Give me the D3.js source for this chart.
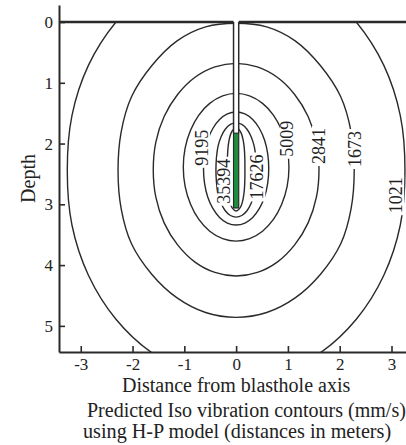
<!DOCTYPE html>
<html><head><meta charset="utf-8">
<script src="https://cdn.jsdelivr.net/npm/d3@7"></script>
<style>
body{margin:0;background:#fff;}
svg{display:block;}
text{font-family:"Liberation Serif","Times New Roman",serif;fill:#222;}
</style>
</head><body>
<svg id="c" width="406" height="445"></svg>
<script>
// ---- data (distances in meters, right half of each iso-contour: [x, depth]) ----
const levels = [35394, 17626, 9195, 5009, 2841, 1673, 1021];
const profile35394 = [[0,1.74],[0.05,1.763],[0.10,1.832],[0.135,1.941],[0.158,2.083],[0.168,2.248],[0.17,2.425],[0.168,2.602],[0.158,2.768],[0.135,2.909],[0.10,3.018],[0.05,3.087],[0,3.11]];
const profile17626 = [[0,1.66],[0.11,1.686],[0.21,1.764],[0.29,1.887],[0.35,2.047],[0.38,2.235],[0.39,2.435],[0.38,2.635],[0.35,2.823],[0.29,2.983],[0.21,3.106],[0.11,3.184],[0,3.21]];
const profile9195  = [[0,1.48],[0.17,1.512],[0.32,1.605],[0.45,1.752],[0.55,1.945],[0.61,2.169],[0.63,2.41],[0.61,2.651],[0.55,2.875],[0.45,3.068],[0.32,3.215],[0.17,3.308],[0,3.34]];
const profile5009  = [[0,1.175],[0.26,1.216],[0.51,1.338],[0.72,1.531],[0.88,1.782],[0.985,2.075],[1.02,2.39],[0.985,2.705],[0.88,2.998],[0.72,3.249],[0.51,3.442],[0.26,3.564],[0,3.605]];
const profile2841  = [[0,0.68],[0.41,0.739],[0.80,0.914],[1.13,1.193],[1.39,1.555],[1.55,1.977],[1.60,2.43],[1.55,2.883],[1.39,3.305],[1.13,3.667],[0.80,3.946],[0.41,4.121],[0,4.18]];
const profile1673  = [[0,0.02],[0.59,0.08],[1.14,0.31],[1.63,0.72],[2.02,1.23],[2.22,1.81],[2.28,2.44],[2.22,3.07],[2.02,3.65],[1.63,4.15],[1.14,4.54],[0.59,4.78],[0,4.86]];
const profile1021  = [[0,-1.0],[0.84,-0.9],[1.63,-0.56],[2.32,0.0],[2.85,0.71],[3.17,1.54],[3.26,2.44],[3.17,3.34],[2.85,4.17],[2.32,4.89],[1.63,5.44],[0.84,5.78],[0,5.90]];
const profiles = [profile35394, profile17626, profile9195, profile5009, profile2841, profile1673, profile1021];
const labelX     = [-0.23, 0.41, -0.66, 0.98, 1.60, 2.30, 3.09];
const labelDepth = [2.62, 2.55, 2.07, 1.92, 2.04, 2.09, 2.85];
const xTicks = [-3,-2,-1,0,1,2,3];
const yTicks = [0,1,2,3,4,5];
const holeHalfWidth = 0.05;
const stemmingBottom = 1.83;
const chargeBottom = 3.06;
const xTitle = "Distance from blasthole axis";
const yTitle = "Depth";
const caption1 = "Predicted Iso vibration contours (mm/s)";
const caption2 = "using H-P model (distances in meters)";

// ---- layout ----
const svg = d3.select("#c");
const x = d3.scaleLinear().domain([-3.42, 3.28]).range([59, 406]);
const y = d3.scaleLinear().domain([-0.28, 5.43]).range([5, 352]);
const ink = "#2a2a2a";
const serif = '"Liberation Serif","Times New Roman",serif';

svg.append("defs").append("clipPath").attr("id","plotclip")
  .append("rect").attr("x", x(-3.42)).attr("y", y(0)).attr("width", x(3.28)-x(-3.42)).attr("height", y(5.43)-y(0));

// contours
const line = d3.line().x(d=>x(d[0])).y(d=>y(d[1])).curve(d3.curveCatmullRomClosed.alpha(0.5));
const gC = svg.append("g").attr("clip-path","url(#plotclip)");
profiles.forEach(p => {
  const left = p.slice(1, -1).reverse().map(d => [-d[0], d[1]]);
  const pts = p.concat(left);
  gC.append("path").attr("d", line(pts)).attr("fill","none").attr("stroke", ink).attr("stroke-width", 1.4);
});

// blasthole: stemming (white) and charge (green)
const hw = x(holeHalfWidth) - x(0);
svg.append("rect").attr("x", x(-holeHalfWidth)).attr("y", y(0)).attr("width", 2*hw).attr("height", y(stemmingBottom)-y(0))
  .attr("fill","#fff");
svg.append("line").attr("x1", x(-holeHalfWidth)).attr("x2", x(-holeHalfWidth)).attr("y1", y(0)).attr("y2", y(stemmingBottom)).attr("stroke", ink).attr("stroke-width",1.5);
svg.append("line").attr("x1", x(holeHalfWidth)).attr("x2", x(holeHalfWidth)).attr("y1", y(0)).attr("y2", y(stemmingBottom)).attr("stroke", ink).attr("stroke-width",1.5);
svg.append("rect").attr("x", x(-holeHalfWidth)).attr("y", y(stemmingBottom)).attr("width", 2*hw).attr("height", y(chargeBottom)-y(stemmingBottom))
  .attr("fill","#1b8f3c").attr("stroke", ink).attr("stroke-width",1.2);

// ground surface
svg.append("line").attr("x1", x(-3.42)).attr("x2", x(-holeHalfWidth)).attr("y1", y(0)).attr("y2", y(0)).attr("stroke", ink).attr("stroke-width", 2.4);
svg.append("line").attr("x1", x(holeHalfWidth)).attr("x2", x(3.28)).attr("y1", y(0)).attr("y2", y(0)).attr("stroke", ink).attr("stroke-width", 2.4);

// contour labels
levels.forEach((v, i) => {
  const cx = x(labelX[i]), cy = y(labelDepth[i]);
  const g = svg.append("g").attr("transform", `translate(${cx},${cy}) rotate(-90)`);
  const t = g.append("text").attr("text-anchor","middle").attr("dy","0.34em").attr("font-size", 18)
    .style("font-family", serif).text(v);
  const len = t.node().getComputedTextLength();
  g.insert("rect","text").attr("x", -len/2 - 2).attr("y", -7).attr("width", len + 4).attr("height", 15).attr("fill","#fff");
});

// axes
const xAxis = d3.axisBottom(x).tickValues(xTicks).tickSizeInner(-6).tickSizeOuter(0).tickPadding(6).tickFormat(d => String(d));
const gx = svg.append("g").attr("transform", `translate(0,${y(5.43)})`).call(xAxis);
const yAxis = d3.axisLeft(y).tickValues(yTicks).tickSizeInner(-6).tickSizeOuter(0).tickPadding(6).tickFormat(d => String(d));
const gy = svg.append("g").attr("transform", `translate(${x(-3.42)},0)`).call(yAxis);
[gx, gy].forEach(g => {
  g.attr("font-family", serif).attr("font-size", 17);
  g.select(".domain").attr("stroke", ink).attr("stroke-width", 2);
  g.selectAll(".tick line").attr("stroke", ink).attr("stroke-width", 1.6);
  g.selectAll(".tick text").attr("font-size", 17).attr("fill", "#222").style("font-family", serif);
});

// titles
svg.append("text").attr("x", x(0)).attr("y", 392).attr("text-anchor","middle").attr("font-size", 20).text(xTitle);
svg.append("text").attr("transform", `translate(35,${(y(-0.28)+y(5.43))/2}) rotate(-90)`).attr("text-anchor","middle").attr("font-size", 20).text(yTitle);
svg.append("text").attr("x", 87).attr("y", 417).attr("font-size", 20).text(caption1);
svg.append("text").attr("x", 83).attr("y", 438).attr("font-size", 20.2).text(caption2);
</script>
</body></html>
